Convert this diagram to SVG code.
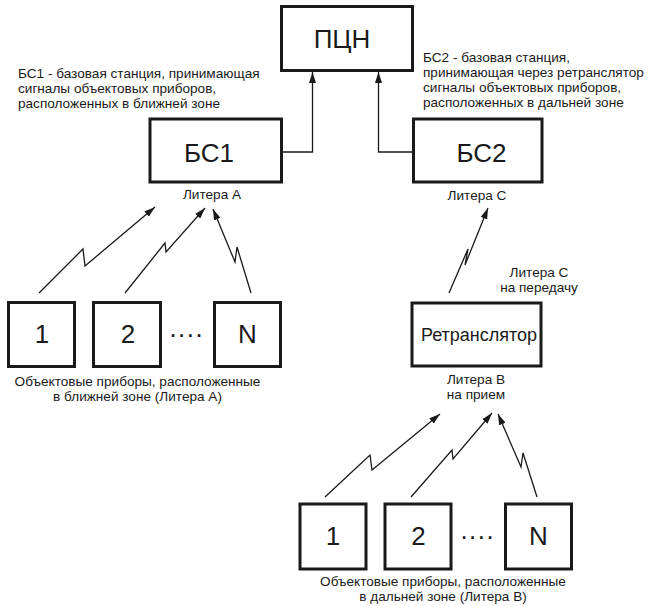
<svg xmlns="http://www.w3.org/2000/svg" width="650" height="606" viewBox="0 0 650 606">
<defs>
<marker id="ah" viewBox="0 0 11 7" refX="11" refY="3.5" markerWidth="11" markerHeight="7" markerUnits="userSpaceOnUse" orient="auto">
<path d="M0,0 L11,3.5 L0,7 z" fill="#1a1a1a"/>
</marker>
<style>
.box{fill:#fff;stroke:#1a1a1a;stroke-width:3}
.big{font-family:"Liberation Sans",Arial,sans-serif;font-size:26px;fill:#1a1a1a;text-anchor:middle}
.mid{font-family:"Liberation Sans",Arial,sans-serif;font-size:18px;fill:#1a1a1a;text-anchor:middle}
.sm{font-family:"Liberation Sans",Arial,sans-serif;font-size:13.6px;fill:#1a1a1a}
.c{text-anchor:middle}
.ln{fill:none;stroke:#1a1a1a;stroke-width:1.3;marker-end:url(#ah)}
</style>
</defs>
<rect width="650" height="606" fill="#fff"/>

<g id="connectors">
<path class="ln" d="M283,152 H312.5 V72"/>
<path class="ln" d="M412,152 H378.5 V72"/>
<polyline class="ln" points="39,293 83,249 85,266 155,207"/>
<polyline class="ln" points="125,293 165,243 166,252 205,208"/>
<polyline class="ln" points="251,293 237,247 235,262 213,209"/>
<polyline class="ln" points="449,293 468,249 465,265 488,208"/>
<polyline class="ln" points="325,497 370,455 372,470 440,414"/>
<polyline class="ln" points="411,497 452,450 453,459 492,413"/>
<polyline class="ln" points="537,497 523,453 521,467 498,414"/>
</g>

<g id="pcn">
<rect class="box" x="281.5" y="6.5" width="131" height="64"/>
<text class="big" x="342" y="48">ПЦН</text>
</g>

<g id="bs1">
<rect class="box" x="150" y="119" width="131.5" height="63"/>
<text class="big" x="209" y="162">БС1</text>
<text class="sm c" x="212" y="199">Литера А</text>
</g>

<g id="bs2">
<rect class="box" x="413.5" y="119" width="128.5" height="63"/>
<text class="big" x="481.5" y="162">БС2</text>
<text class="sm c" x="477" y="200">Литера С</text>
</g>

<g id="bs1-note">
<text class="sm" x="18" y="78">БС1 - базовая станция, принимающая</text>
<text class="sm" x="18" y="93">сигналы объектовых приборов,</text>
<text class="sm" x="18" y="108">расположенных в ближней зоне</text>
</g>

<g id="bs2-note">
<text class="sm" x="423" y="62">БС2 - базовая станция,</text>
<text class="sm" x="423" y="77">принимающая через ретранслятор</text>
<text class="sm" x="423" y="92">сигналы объектовых приборов,</text>
<text class="sm" x="423" y="107">расположенных в дальней зоне</text>
</g>

<g id="retranslator">
<rect class="box" x="412" y="303" width="129" height="63"/>
<text class="mid" x="479" y="341">Ретранслятор</text>
<text class="sm c" x="539" y="277">Литера С</text>
<text class="sm c" x="539" y="292">на передачу</text>
<text class="sm c" x="476" y="384">Литера В</text>
<text class="sm c" x="476" y="399">на прием</text>
</g>

<g id="near-1">
<rect class="box" x="8.5" y="302.5" width="66" height="64"/>
<text class="big" x="42" y="343">1</text>
</g>
<g id="near-2">
<rect class="box" x="93.5" y="302.5" width="67" height="64"/>
<text class="big" x="128" y="343">2</text>
</g>
<g id="near-dots">
<text class="big" x="186" y="343">····</text>
</g>
<g id="near-n">
<rect class="box" x="214.5" y="302.5" width="66" height="64"/>
<text class="big" x="247.5" y="343">N</text>
</g>
<g id="near-caption">
<text class="sm c" x="137.5" y="386">Объектовые приборы, расположенные</text>
<text class="sm c" x="137.5" y="401">в ближней зоне (Литера А)</text>
</g>

<g id="far-1">
<rect class="box" x="300" y="504" width="66" height="65"/>
<text class="big" x="333" y="545">1</text>
</g>
<g id="far-2">
<rect class="box" x="385" y="504" width="66" height="65"/>
<text class="big" x="418.5" y="545">2</text>
</g>
<g id="far-dots">
<text class="big" x="477" y="545">····</text>
</g>
<g id="far-n">
<rect class="box" x="505.5" y="504" width="66" height="65"/>
<text class="big" x="538.5" y="545">N</text>
</g>
<g id="far-caption">
<text class="sm c" x="443" y="586">Объектовые приборы, расположенные</text>
<text class="sm c" x="443" y="601">в дальней зоне (Литера В)</text>
</g>
</svg>
